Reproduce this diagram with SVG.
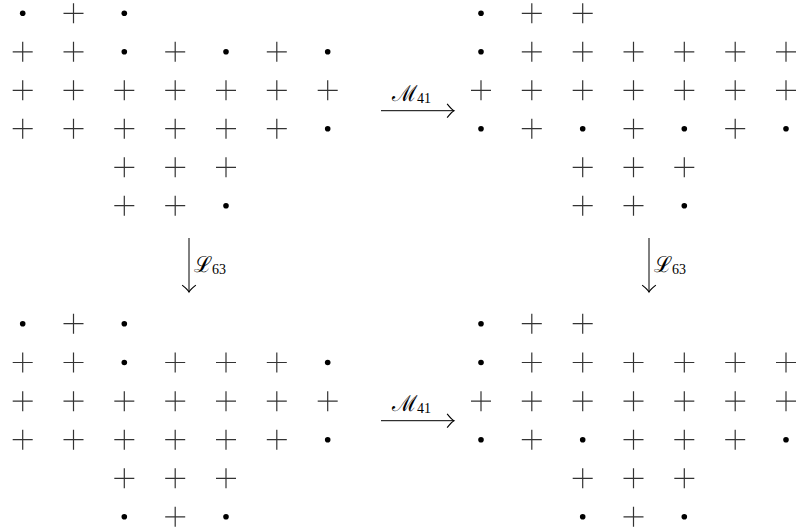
<svg xmlns="http://www.w3.org/2000/svg" xmlns:xlink="http://www.w3.org/1999/xlink" width="796" height="531" viewBox="0 0 796 531">
<style>
.p{stroke:#333;stroke-width:1.2;fill:none}
.d{fill:#000}
.ln{stroke:#000;stroke-width:1;fill:none}
.lab{font-family:"DejaVu Serif","Liberation Serif",serif;fill:#000}
.sub{font-family:"Liberation Serif","DejaVu Serif",serif;font-style:normal}
</style>
<defs>
<path id="P" class="p" d="M-10,0H10M0,-10V10"/>
<circle id="D" class="d" r="2.8"/>
<marker id="ah" markerUnits="userSpaceOnUse" markerWidth="16" markerHeight="16" refX="0" refY="0" viewBox="-8 -7 10 14" orient="auto" overflow="visible">
<path d="M-6,-6 Q-2,-1 0,0 Q-2,1 -6,6" stroke="#000" stroke-width="1" fill="none"/>
</marker>
</defs>
<g id="grid-top-left">
<use href="#D" x="22.7" y="13.3"/><use href="#P" x="73.5" y="13.3"/><use href="#D" x="124.3" y="13.3"/>
<use href="#P" x="22.7" y="51.8"/><use href="#P" x="73.5" y="51.8"/><use href="#D" x="124.3" y="51.8"/><use href="#P" x="175.2" y="51.8"/><use href="#D" x="226" y="51.8"/><use href="#P" x="276.8" y="51.8"/><use href="#D" x="327.7" y="51.8"/>
<use href="#P" x="22.7" y="90.3"/><use href="#P" x="73.5" y="90.3"/><use href="#P" x="124.3" y="90.3"/><use href="#P" x="175.2" y="90.3"/><use href="#P" x="226" y="90.3"/><use href="#P" x="276.8" y="90.3"/><use href="#P" x="327.7" y="90.3"/>
<use href="#P" x="22.7" y="128.7"/><use href="#P" x="73.5" y="128.7"/><use href="#P" x="124.3" y="128.7"/><use href="#P" x="175.2" y="128.7"/><use href="#P" x="226" y="128.7"/><use href="#P" x="276.8" y="128.7"/><use href="#D" x="327.7" y="128.7"/>
<use href="#P" x="124.3" y="167.3"/><use href="#P" x="175.2" y="167.3"/><use href="#P" x="226" y="167.3"/>
<use href="#P" x="124.3" y="205.7"/><use href="#P" x="175.2" y="205.7"/><use href="#D" x="226" y="205.7"/>
</g>
<g id="grid-top-right">
<use href="#D" x="481" y="13.3"/><use href="#P" x="531.8" y="13.3"/><use href="#P" x="582.7" y="13.3"/>
<use href="#D" x="481" y="51.8"/><use href="#P" x="531.8" y="51.8"/><use href="#P" x="582.7" y="51.8"/><use href="#P" x="633.5" y="51.8"/><use href="#P" x="684.3" y="51.8"/><use href="#P" x="735.2" y="51.8"/><use href="#P" x="786" y="51.8"/>
<use href="#P" x="481" y="90.3"/><use href="#P" x="531.8" y="90.3"/><use href="#P" x="582.7" y="90.3"/><use href="#P" x="633.5" y="90.3"/><use href="#P" x="684.3" y="90.3"/><use href="#P" x="735.2" y="90.3"/><use href="#P" x="786" y="90.3"/>
<use href="#D" x="481" y="128.7"/><use href="#P" x="531.8" y="128.7"/><use href="#D" x="582.7" y="128.7"/><use href="#P" x="633.5" y="128.7"/><use href="#D" x="684.3" y="128.7"/><use href="#P" x="735.2" y="128.7"/><use href="#D" x="786" y="128.7"/>
<use href="#P" x="582.7" y="167.3"/><use href="#P" x="633.5" y="167.3"/><use href="#P" x="684.3" y="167.3"/>
<use href="#P" x="582.7" y="205.7"/><use href="#P" x="633.5" y="205.7"/><use href="#D" x="684.3" y="205.7"/>
</g>
<g id="grid-bottom-left">
<use href="#D" x="22.7" y="323.7"/><use href="#P" x="73.5" y="323.7"/><use href="#D" x="124.3" y="323.7"/>
<use href="#P" x="22.7" y="362.5"/><use href="#P" x="73.5" y="362.5"/><use href="#D" x="124.3" y="362.5"/><use href="#P" x="175.2" y="362.5"/><use href="#P" x="226" y="362.5"/><use href="#P" x="276.8" y="362.5"/><use href="#D" x="327.7" y="362.5"/>
<use href="#P" x="22.7" y="401.2"/><use href="#P" x="73.5" y="401.2"/><use href="#P" x="124.3" y="401.2"/><use href="#P" x="175.2" y="401.2"/><use href="#P" x="226" y="401.2"/><use href="#P" x="276.8" y="401.2"/><use href="#P" x="327.7" y="401.2"/>
<use href="#P" x="22.7" y="439.7"/><use href="#P" x="73.5" y="439.7"/><use href="#P" x="124.3" y="439.7"/><use href="#P" x="175.2" y="439.7"/><use href="#P" x="226" y="439.7"/><use href="#P" x="276.8" y="439.7"/><use href="#D" x="327.7" y="439.7"/>
<use href="#P" x="124.3" y="478.3"/><use href="#P" x="175.2" y="478.3"/><use href="#P" x="226" y="478.3"/>
<use href="#D" x="124.3" y="516.8"/><use href="#P" x="175.2" y="516.8"/><use href="#D" x="226" y="516.8"/>
</g>
<g id="grid-bottom-right">
<use href="#D" x="481" y="323.7"/><use href="#P" x="531.8" y="323.7"/><use href="#P" x="582.7" y="323.7"/>
<use href="#D" x="481" y="362.5"/><use href="#P" x="531.8" y="362.5"/><use href="#P" x="582.7" y="362.5"/><use href="#P" x="633.5" y="362.5"/><use href="#P" x="684.3" y="362.5"/><use href="#P" x="735.2" y="362.5"/><use href="#P" x="786" y="362.5"/>
<use href="#P" x="481" y="401.2"/><use href="#P" x="531.8" y="401.2"/><use href="#P" x="582.7" y="401.2"/><use href="#P" x="633.5" y="401.2"/><use href="#P" x="684.3" y="401.2"/><use href="#P" x="735.2" y="401.2"/><use href="#P" x="786" y="401.2"/>
<use href="#D" x="481" y="439.7"/><use href="#P" x="531.8" y="439.7"/><use href="#D" x="582.7" y="439.7"/><use href="#P" x="633.5" y="439.7"/><use href="#P" x="684.3" y="439.7"/><use href="#P" x="735.2" y="439.7"/><use href="#D" x="786" y="439.7"/>
<use href="#P" x="582.7" y="478.3"/><use href="#P" x="633.5" y="478.3"/><use href="#P" x="684.3" y="478.3"/>
<use href="#D" x="582.7" y="516.8"/><use href="#P" x="633.5" y="516.8"/><use href="#D" x="684.3" y="516.8"/>
</g>
<g id="connectors">
<line class="ln" x1="381" y1="110.7" x2="454" y2="110.7" marker-end="url(#ah)"/>
<line class="ln" x1="381" y1="420.7" x2="454" y2="420.7" marker-end="url(#ah)"/>
<line class="ln" x1="189" y1="238" x2="189" y2="292" marker-end="url(#ah)"/>
<line class="ln" x1="649" y1="238" x2="649" y2="292" marker-end="url(#ah)"/>
<text class="lab" x="392" y="101" font-size="22">ℳ<tspan class="sub" font-size="14" dy="2">41</tspan></text>
<text class="lab" x="392" y="411" font-size="22">ℳ<tspan class="sub" font-size="14" dy="2">41</tspan></text>
<text class="lab" x="194" y="272" font-size="22">ℒ<tspan class="sub" font-size="14" dy="2">63</tspan></text>
<text class="lab" x="654" y="272" font-size="22">ℒ<tspan class="sub" font-size="14" dy="2">63</tspan></text>
</g>
</svg>
